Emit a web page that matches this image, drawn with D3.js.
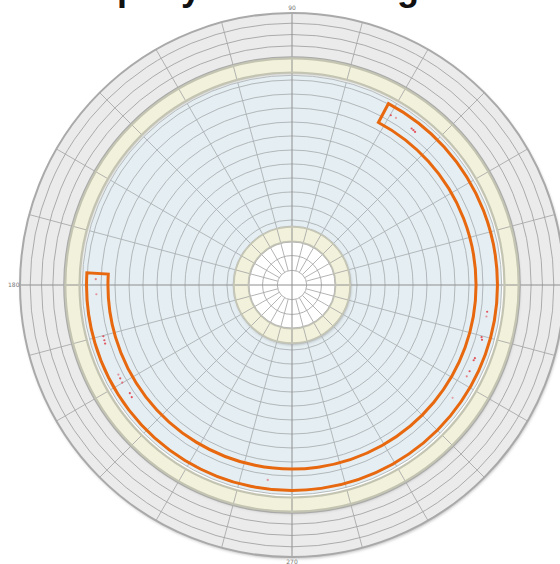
<!DOCTYPE html>
<html>
<head>
<meta charset="utf-8">
<script src="https://cdn.jsdelivr.net/npm/d3@7"></script>
<style>
  html, body { margin: 0; padding: 0; background: #ffffff; }
  svg { display: block; }
</style>
</head>
<body>
<svg id="chart" width="560" height="564"></svg>
<script>
// ---- data ----------------------------------------------------------
// Angular axis: degrees counter-clockwise from east
const axisAngles = [0, 90, 180, 270];
const labelAngles = [90, 180, 270];
const labelTexts  = ["90", "180", "270"];
const spokeAngles = d3.range(0, 360, 15);

// Concentric zones, radial units
const zoneKeys  = ["core", "innerBand", "field", "outerBand", "rim"];
const zoneInner = [0, 3.85, 5.2, 18.75, 20.1];
const zoneOuter = [3.8, 5.12, 18.5, 20.0, 24];

// Grid circles within zones
const coreRings  = [1.3, 2.6];
const fieldRings = [5.74, 6.97, 8.21, 9.44, 10.68, 11.91, 13.15, 14.38, 15.62, 16.85, 18.09];
const rimRings   = [21.1, 22.1, 23.1];

// Sector series: from startDeg sweeping counter-clockwise to endDeg
const sectorStart = 176.6;
const sectorEnd   = 422.0;   // 62° on the next turn
const sectorInner = 16.24;
const sectorOuter = 18.13;

// Sample points inside the sector
const pointAngles = [59.8, 58.1, 52.6, 51.9, 51.2, -7.8, -9.2, -15.4, -16.1, -21.8, -22.5,
                     -25.9, -27.6, -35.1, 262.9, 178.3, 182.7, 195.2, 196.4, 197.4,
                     207.3, 208.5, 209.9, 213.7, 215.0];
const pointRadii  = [17.33, 17.36, 17.38, 17.36, 17.33, 17.38, 17.38, 17.35, 17.45, 17.38, 17.35,
                     17.42, 17.40, 17.32, 17.33, 17.32, 17.28, 17.25, 17.26, 17.28,
                     17.24, 17.25, 17.28, 17.20, 17.26];
const pointShade  = [1, 0.5, 1, 1, 1, 1, 0.6, 1, 1, 1, 1, 1, 0.7, 0.5, 0.6, 0.7, 0.6, 1, 1, 1,
                     0.6, 1, 0.8, 1, 1];

const titleText = "Company Zone Rating Chart";

// ---- layout --------------------------------------------------------
const cx = 292, cy = 285, R = 272;
const svg = d3.select("#chart");

const r = d3.scaleLinear().domain([0, 24]).range([0, R]);
// chart degrees (CCW from east) -> d3 radians (clockwise from north)
const ang = d3.scaleLinear().domain([0, 360]).range([Math.PI / 2, Math.PI / 2 - 2 * Math.PI]);
const pt = (deg, v) => d3.pointRadial(ang(deg), r(v));

const defs = svg.append("defs");
const sh = defs.append("filter").attr("id", "shadow")
  .attr("x", "-10%").attr("y", "-10%").attr("width", "120%").attr("height", "120%");
sh.append("feDropShadow").attr("dx", 0.8).attr("dy", 1.6).attr("stdDeviation", 1.4)
  .attr("flood-color", "#000").attr("flood-opacity", 0.28);

// title (sits mostly above the frame)
svg.append("text")
  .attr("x", 280).attr("y", -0.5)
  .attr("text-anchor", "middle")
  .attr("font-family", "Liberation Sans, Arial, sans-serif")
  .attr("font-weight", "bold")
  .attr("font-size", 36)
  .attr("fill", "#111")
  .text(titleText);

const g = svg.append("g").attr("transform", `translate(${cx},${cy})`);

const zoneFill   = { core: "#ffffff", innerBand: "#f2f1db", field: "#e5eef2", outerBand: "#f2f1db", rim: "#ebebeb" };
const zoneStroke = { core: "#b9b9b9", innerBand: "#c6c6b4", field: "#b7bcbd", outerBand: "#c4c4b2", rim: "#a9a9a9" };
const zoneWidth  = { core: 1, innerBand: 1.6, field: 1, outerBand: 2.2, rim: 2 };

const full = d3.arc().startAngle(0).endAngle(2 * Math.PI);

// zones drawn outermost first so shadows fall on the layer below
const zones = zoneKeys.map((k, i) => ({ key: k, inner: zoneInner[i], outer: zoneOuter[i] })).reverse();

g.selectAll("path.zone")
  .data(zones)
  .join("path")
  .attr("class", "zone")
  .attr("d", d => full({ innerRadius: r(d.inner), outerRadius: r(d.outer) }))
  .attr("fill", d => zoneFill[d.key])
  .attr("filter", d => (d.key === "rim" || d.key === "outerBand" || d.key === "innerBand") ? "url(#shadow)" : null);

// grid circles
const ringGroups = [
  { rings: coreRings, color: "#a8a8a8" },
  { rings: fieldRings, color: "#abb1b4" },
  { rings: rimRings, color: "#a4a4a4" }
];
ringGroups.forEach(grp => {
  g.append("g").selectAll("circle")
    .data(grp.rings)
    .join("circle")
    .attr("r", d => r(d))
    .attr("fill", "none")
    .attr("stroke", grp.color)
    .attr("stroke-width", 0.9);
});

// spokes, one set per zone
zones.forEach(z => {
  const from = z.key === "core" ? coreRings[0] : z.inner;
  g.append("g").selectAll("line")
    .data(spokeAngles.filter(a => axisAngles.indexOf(a) < 0))
    .join("line")
    .attr("x1", a => pt(a, from)[0]).attr("y1", a => pt(a, from)[1])
    .attr("x2", a => pt(a, z.outer)[0]).attr("y2", a => pt(a, z.outer)[1])
    .attr("stroke", z.key === "field" ? "#a9afb2" : "#a6a6a6")
    .attr("stroke-width", 0.85);
});

// main axes through the centre
g.append("g").selectAll("line")
  .data(axisAngles)
  .join("line")
  .attr("x1", 0).attr("y1", 0)
  .attr("x2", a => pt(a, zoneOuter[4])[0]).attr("y2", a => pt(a, zoneOuter[4])[1])
  .attr("stroke", "#8f8f8f")
  .attr("stroke-width", 1);

// zone outlines
g.selectAll("circle.edge")
  .data(zones.flatMap(z => z.key === "core" ? [{ key: z.key, v: z.outer }] : [{ key: z.key, v: z.inner }, { key: z.key, v: z.outer }]))
  .join("circle")
  .attr("class", "edge")
  .attr("r", d => r(d.v))
  .attr("fill", "none")
  .attr("stroke", d => zoneStroke[d.key])
  .attr("stroke-width", d => zoneWidth[d.key]);

// sector series
const sectorArc = d3.arc()
  .innerRadius(r(sectorInner))
  .outerRadius(r(sectorOuter))
  .startAngle(ang(sectorStart))
  .endAngle(ang(sectorEnd));
g.append("path")
  .attr("d", sectorArc())
  .attr("fill", "none")
  .attr("stroke", "#e8680f")
  .attr("stroke-width", 3)
  .attr("stroke-linejoin", "miter");

// sample points
g.append("g").selectAll("circle")
  .data(pointAngles.map((a, i) => ({ a, v: pointRadii[i], s: pointShade[i] })))
  .join("circle")
  .attr("cx", d => pt(d.a, d.v)[0])
  .attr("cy", d => pt(d.a, d.v)[1])
  .attr("r", 1.1)
  .attr("fill", "#e23b45")
  .attr("fill-opacity", d => d.s * 0.85);

// angular labels
g.append("g").selectAll("text")
  .data(labelAngles.map((a, i) => ({ a, t: labelTexts[i] })))
  .join("text")
  .attr("x", d => pt(d.a, 24.55)[0])
  .attr("y", d => pt(d.a, 24.45)[1])
  .attr("dy", "0.35em")
  .attr("text-anchor", "middle")
  .attr("font-family", "DejaVu Sans, sans-serif")
  .attr("font-size", 6)
  .attr("fill", "#777")
  .text(d => d.t);
</script>
</body>
</html>
